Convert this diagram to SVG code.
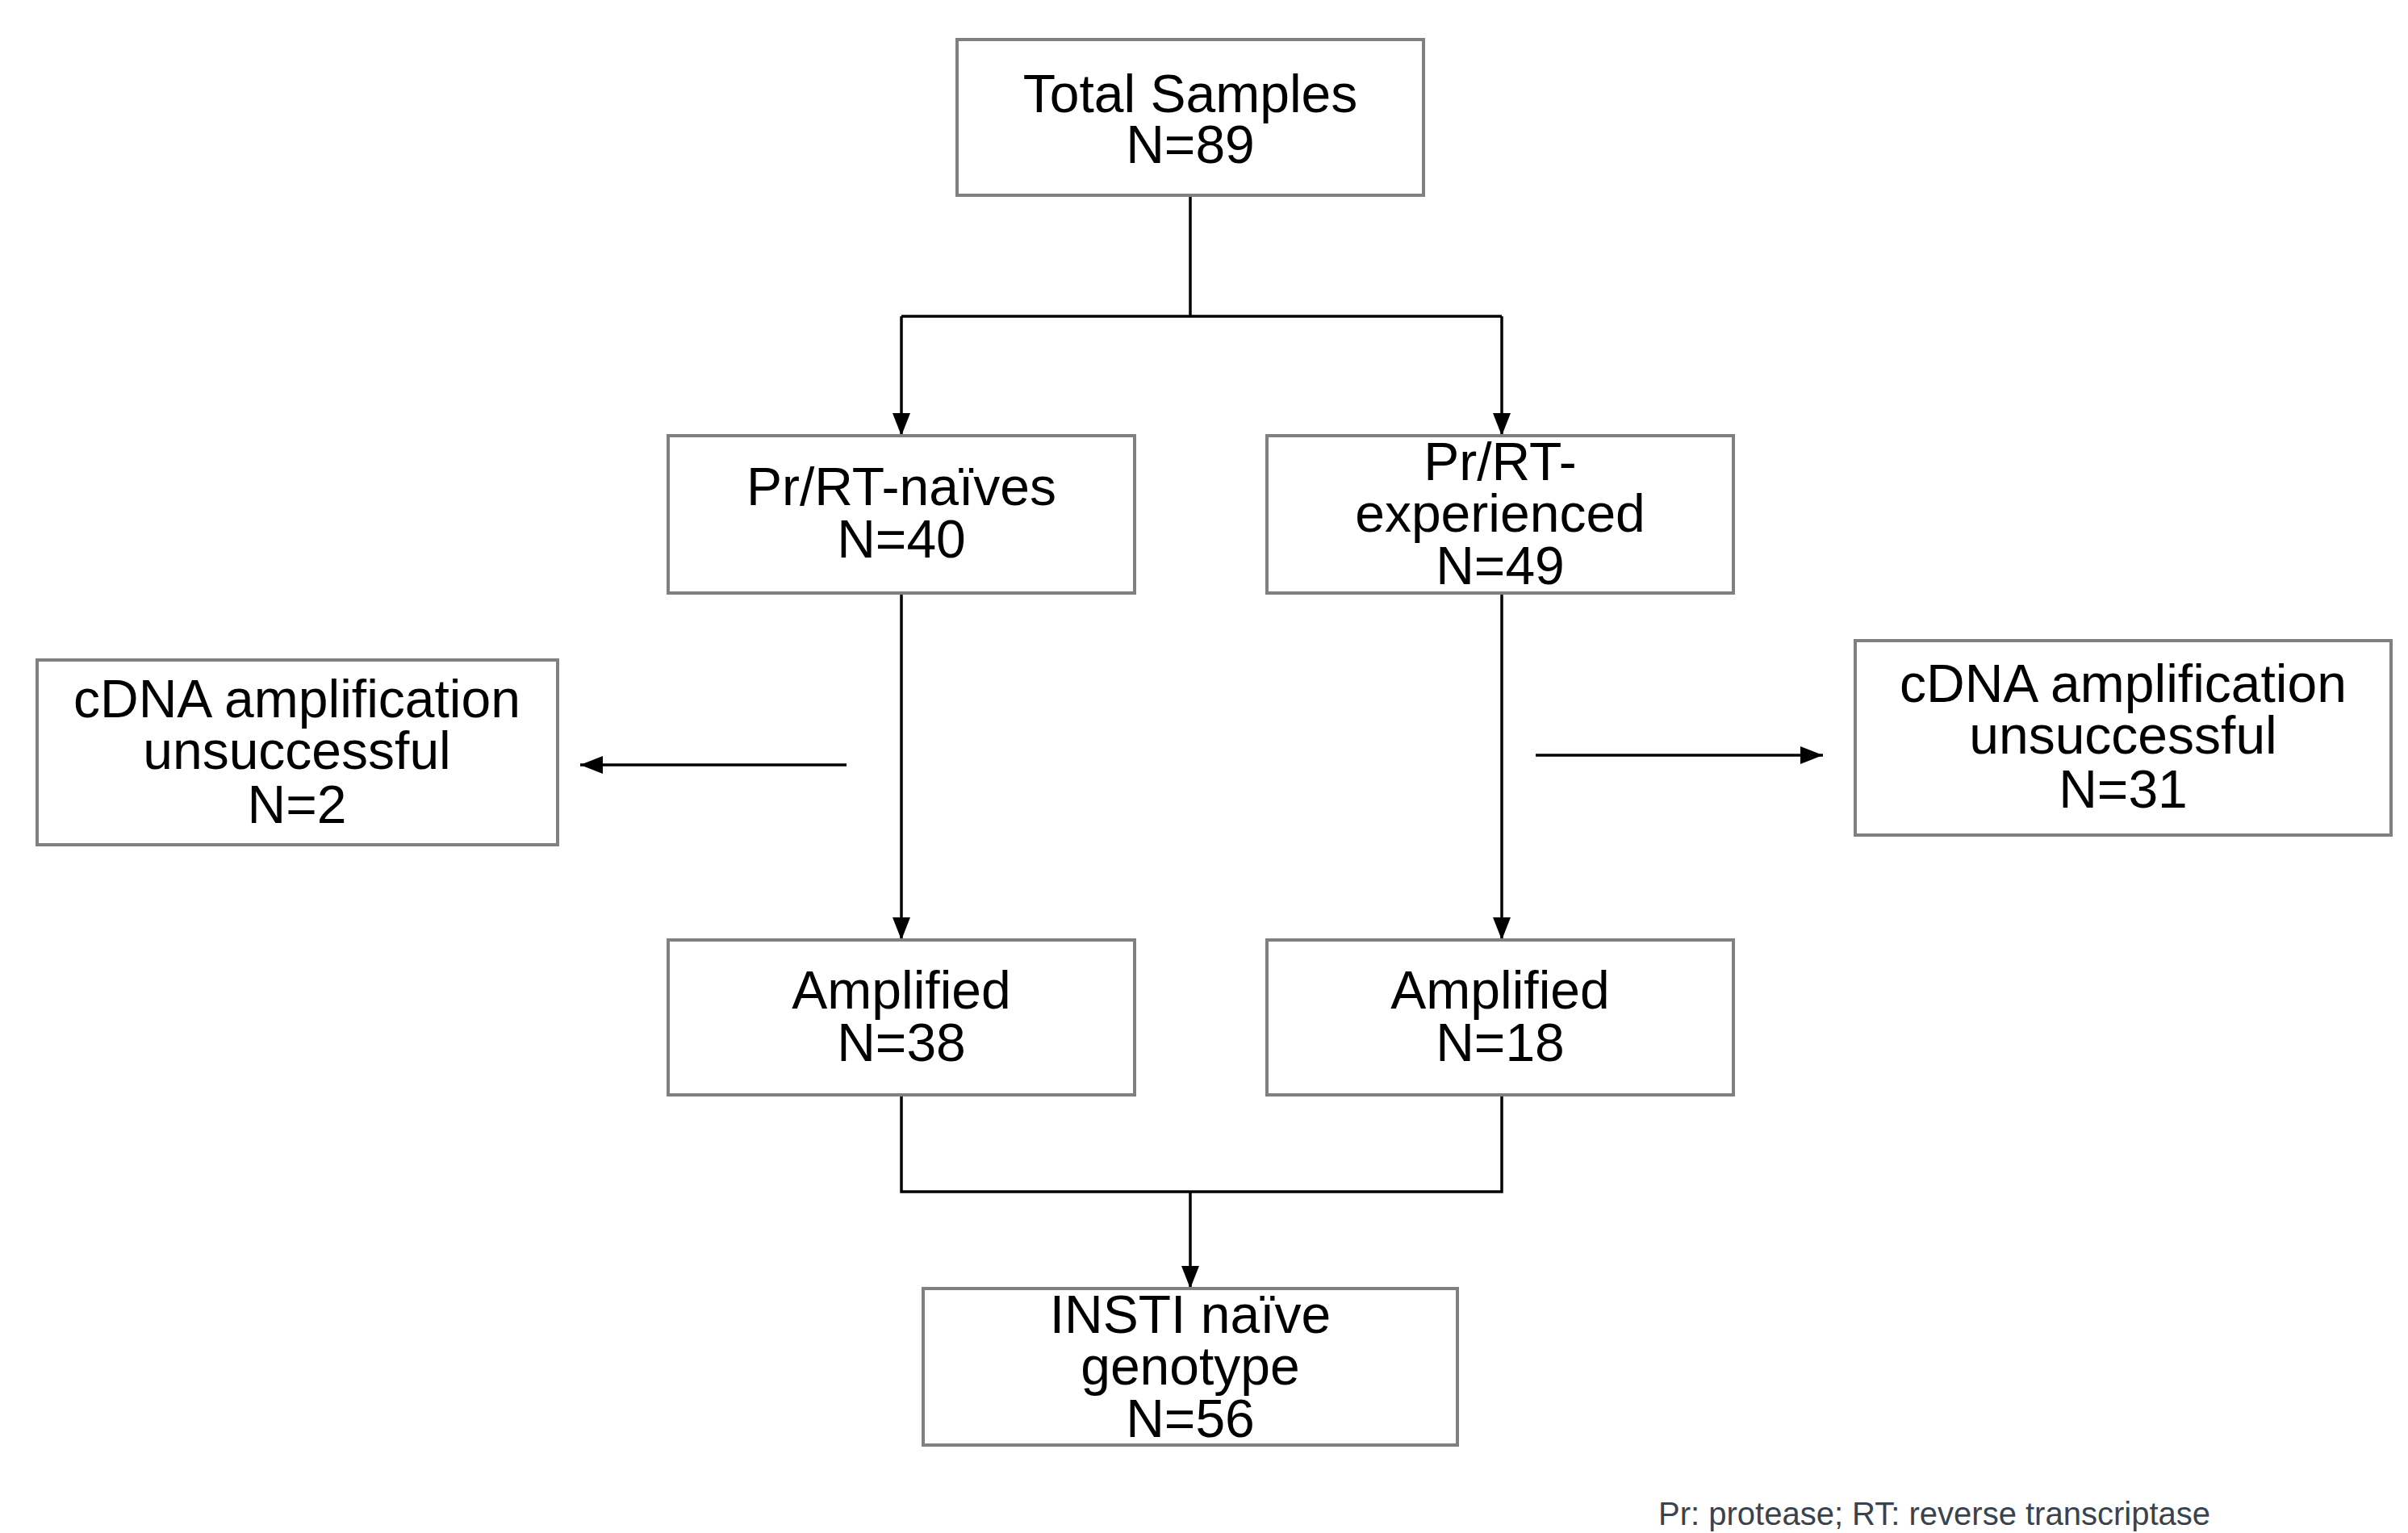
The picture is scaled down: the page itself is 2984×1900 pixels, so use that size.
<svg xmlns="http://www.w3.org/2000/svg" width="2984" height="1900" viewBox="0 0 2984 1900">
<defs>
<style>
.box{fill:#fff;stroke:#808080;stroke-width:4}
.t{font-family:"Liberation Sans",Arial,sans-serif;font-size:66px;fill:#000;text-anchor:middle}
.c{fill:none;stroke:#000;stroke-width:3.5}
.foot{font-family:"Liberation Sans",Arial,sans-serif;font-size:40px;fill:#3a434d}
</style>
<marker id="ah" markerWidth="28" markerHeight="22" refX="28" refY="11" orient="auto" markerUnits="userSpaceOnUse">
<path d="M0,0 L28,11 L0,22 Z" fill="#000"/>
</marker>
</defs>
<rect width="2984" height="1900" fill="#fff"/>
<g id="connectors">
<path class="c" d="M1475,242 V392"/>
<path class="c" d="M1117,392 H1861"/>
<path class="c" d="M1117,392 V540" marker-end="url(#ah)"/>
<path class="c" d="M1861,392 V540" marker-end="url(#ah)"/>
<path class="c" d="M1117,735 V1165" marker-end="url(#ah)"/>
<path class="c" d="M1861,735 V1165" marker-end="url(#ah)"/>
<path class="c" d="M1049,948 H719" marker-end="url(#ah)"/>
<path class="c" d="M1903,936 H2259" marker-end="url(#ah)"/>
<path class="c" d="M1117,1357 V1477 H1861 V1357"/>
<path class="c" d="M1475,1477 V1597" marker-end="url(#ah)"/>
</g>
<g id="total">
<rect class="box" x="1186" y="49" width="578" height="193"/>
<text class="t" x="1475" y="139">Total Samples</text>
<text class="t" x="1475" y="202">N=89</text>
</g>
<g id="naive">
<rect class="box" x="828" y="540" width="578" height="195"/>
<text class="t" x="1117" y="626">Pr/RT-naïves</text>
<text class="t" x="1117" y="691">N=40</text>
</g>
<g id="experienced">
<rect class="box" x="1570" y="540" width="578" height="195"/>
<text class="t" x="1859" y="595">Pr/RT-</text>
<text class="t" x="1859" y="659">experienced</text>
<text class="t" x="1859" y="724">N=49</text>
</g>
<g id="fail-left">
<rect class="box" x="46" y="818" width="645" height="229"/>
<text class="t" x="368" y="889">cDNA amplification</text>
<text class="t" x="368" y="953">unsuccessful</text>
<text class="t" x="368" y="1020">N=2</text>
</g>
<g id="fail-right">
<rect class="box" x="2299" y="794" width="664" height="241"/>
<text class="t" x="2631" y="870">cDNA amplification</text>
<text class="t" x="2631" y="934">unsuccessful</text>
<text class="t" x="2631" y="1001">N=31</text>
</g>
<g id="amp-left">
<rect class="box" x="828" y="1165" width="578" height="192"/>
<text class="t" x="1117" y="1250">Amplified</text>
<text class="t" x="1117" y="1315">N=38</text>
</g>
<g id="amp-right">
<rect class="box" x="1570" y="1165" width="578" height="192"/>
<text class="t" x="1859" y="1250">Amplified</text>
<text class="t" x="1859" y="1315">N=18</text>
</g>
<g id="insti">
<rect class="box" x="1144" y="1597" width="662" height="194"/>
<text class="t" x="1475" y="1652">INSTI naïve</text>
<text class="t" x="1475" y="1716">genotype</text>
<text class="t" x="1475" y="1781">N=56</text>
</g>
<text class="foot" x="2055" y="1890">Pr: protease; RT: reverse transcriptase</text>
</svg>
